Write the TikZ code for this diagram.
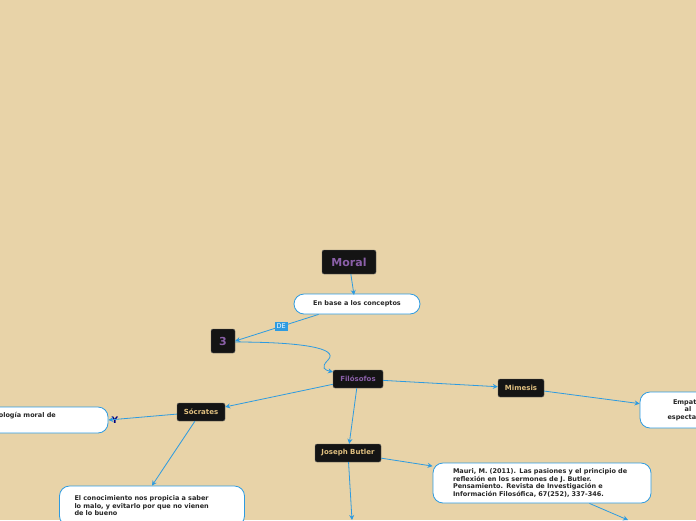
\documentclass[tikz,border=0pt]{standalone}
\usepackage{fontspec}
\setmainfont{DejaVu Sans}
\usetikzlibrary{positioning,arrows.meta}
\definecolor{bg}{HTML}{E8D3A8}
\definecolor{link}{HTML}{2E9BE0}
\definecolor{violet}{HTML}{8A5FA8}
\definecolor{gold}{HTML}{E0C080}
\begin{document}
\begin{tikzpicture}
    [
    x=1pt, y=-1pt,
    topic/.style={fill=black!92, draw=black!60, rounded corners=2pt, inner sep=0pt, font=\bfseries\fontsize{7}{8}\selectfont},
    note/.style={fill=white, draw=link, line width=0.8pt, rounded corners=10pt, inner sep=0pt, font=\bfseries\fontsize{6.5}{7.5}\selectfont, text=black!85},
    link/.style={draw=link, line width=0.8pt, -{Stealth[length=5pt,width=5pt]}},
    ]
    \clip (0,0) rectangle (696,520);
    \fill[bg] (0,0) rectangle (696,520);
    \node (moral) at (349,262) [topic, minimum width=54, minimum height=24, text=violet, font=\bfseries\fontsize{11}{13}\selectfont] {Moral};
    \node (base) at (357,304) [note, minimum width=126, minimum height=20] {En base a los conceptos};
    \node (tres) at (223,341) [topic, minimum width=24, minimum height=24, text=violet, font=\bfseries\fontsize{11}{13}\selectfont] {3};
    \node (filo) at (358,379) [topic, minimum width=50, minimum height=18, text=violet] {Filósofos};
    \node (mime) at (521,388) [topic, minimum width=46, minimum height=18, text=gold] {Mimesis};
    \node (empa) at (688,410) [note, minimum width=96, minimum height=36, align=center] {Empatía\\al\\espectador};
    \node (socr) at (201,412) [topic, minimum width=48, minimum height=18, text=gold] {Sócrates};
    \node (psic) at (28,420) [note, minimum width=160, minimum height=26] {};
    \node (psictxt) at (-16,416) [anchor=west, font=\bfseries\fontsize{6.5}{7.5}\selectfont, text=black!85, inner sep=0pt] {Psicología moral de};
    \node (yy) at (115,420) [text=blue!50!black, font=\bfseries\rmfamily\fontsize{9}{10}\selectfont] {Y};
    \node (cono) at (152,506) [note, minimum width=185, minimum height=40, align=left, text width=155] {El conocimiento nos propicia a saber\\lo malo, y evitarlo por que no vienen\\de lo bueno};
    \node (butl) at (348,453) [topic, minimum width=66, minimum height=18, text=gold] {Joseph Butler};
    \node (maur) at (542,483) [note, minimum width=218, minimum height=40, align=left, text width=178] {Mauri, M. (2011). Las pasiones y el principio de\\reflexión en los sermones de J. Butler.\\Pensamiento. Revista de Investigación e\\Información Filosófica, 67(252), 337-346.};
    \coordinate (endb) at (352,520);
    \coordinate (endm) at (628,520);

    \draw [link] (moral) to (354,295);
    \draw [link] (base.south west) ++(25,0) -- (tres.east)
      node [pos=0.45, fill=link, text=white, inner sep=2pt, font=\fontsize{6.5}{7}\selectfont] {DE};
    \draw [link] (235,342) .. controls (300,342) and (340,348) .. (328,360) .. controls (320,368) and (325,370) .. (333,372);
    \draw [link] (filo) to (socr);
    \draw [link] (filo) to (butl);
    \draw [link] (filo) to (mime);
    \draw [link] (mime) to (empa);
    \draw [link] (socr) to (psic.east);
    \draw [link] (socr) to (cono.north);
    \draw [link] (butl) to (maur);
    \draw [link] (butl) to (endb);
    \draw [link] (maur) to (endm);
  \end{tikzpicture}
\end{document}
